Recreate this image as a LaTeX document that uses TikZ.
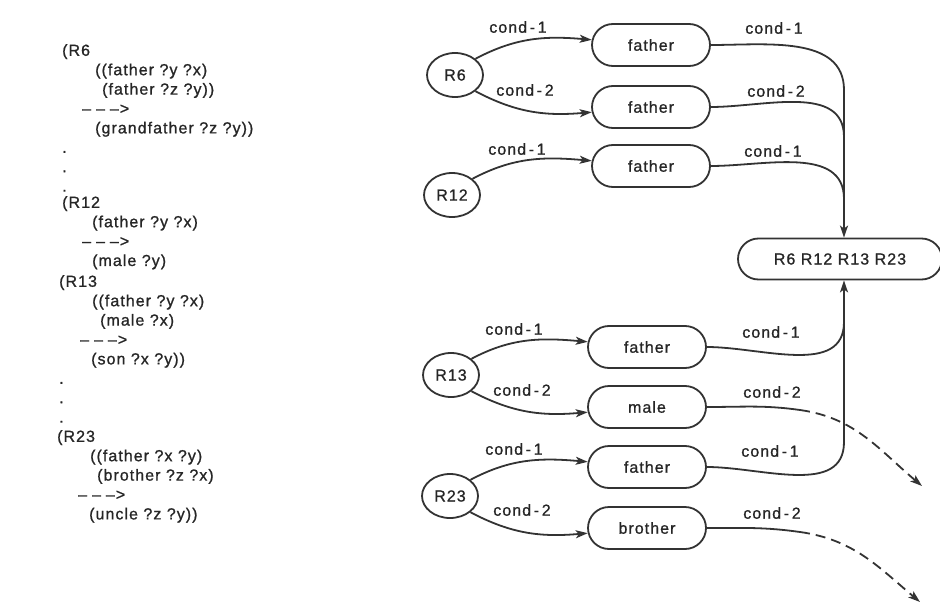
\documentclass[tikz,border=0pt]{standalone}
\usepackage{fontspec}
\setmainfont{Liberation Sans}[LetterSpace=6.5, FakeBold=1]
\usetikzlibrary{arrows.meta, positioning, shapes.geometric, shapes.misc}

\begin{document}
\begin{tikzpicture}[
        x=1pt, y=-1pt,
        font=\fontsize{16}{19.4}\selectfont,
        every node/.style={text=black!85},
        rulecirc/.style={draw, ellipse, line width=1.8pt, draw=black!80,
            minimum width=56pt, minimum height=44pt, inner sep=0pt},
        condbox/.style={draw, rounded rectangle, line width=1.8pt, draw=black!80,
            minimum width=122pt, minimum height=42pt, inner sep=2pt},
        setbox/.style={condbox, minimum width=208pt, minimum height=41pt},
        ruletext/.style={anchor=north west, align=left, inner sep=0pt},
        lbl/.style={inner sep=0pt},
        wire/.style={line width=1.8pt, draw=black!80},
        link/.style={wire, -{Stealth[length=12pt, width=8pt, inset=3pt]}},
        cutline/.style={dash pattern=on 10pt off 6pt},
    ]
    \newcommand{\thenarrow}{\textendash\hspace{5pt}\textendash\hspace{5pt}\textendash\hspace{1pt}>}
        \useasboundingbox (0,0) rectangle (940,610);

        % Rules
        \node[ruletext] (rule6) at (62,44)
            {(R6\\ \hspace*{33pt}((father ?y ?x)\\ \hspace*{40pt}(father ?z ?y))\\
             \hspace*{20pt}\thenarrow\\ \hspace*{33pt}(grandfather ?z ?y))\\ .\\ .\\ .};
        \node[ruletext] (rule12) at (62,196)
            {(R12\\ \hspace*{30pt}(father ?y ?x)\\ \hspace*{20pt}\thenarrow\\ \hspace*{30pt}(male ?y)};
        \node[ruletext] (rule13) at (59,275)
            {(R13\\ \hspace*{33pt}((father ?y ?x)\\ \hspace*{41pt}(male ?x)\\
             \hspace*{21pt}\thenarrow\\ \hspace*{32pt}(son ?x ?y))\\ .\\ .\\ .};
        \node[ruletext] (rule23) at (57,430)
            {(R23\\ \hspace*{33pt}((father ?x ?y)\\ \hspace*{40pt}(brother ?z ?x)\\
             \hspace*{21pt}\thenarrow\\ \hspace*{32pt}(uncle ?z ?y))};

        % Rule nodes and condition nodes
        \node[rulecirc] (r6) at (455,75) {R6};
        \node[condbox] (f61) at (651,45) {father};
        \node[condbox] (f62) at (651,107) {father};
        \node[rulecirc] (r12) at (452,195) {R12};
        \node[condbox] (f121) at (651,166) {father};
        \node[setbox] (cset) at (840,259) {R6 R12 R13 R23};
        \node[rulecirc] (r13) at (451,375) {R13};
        \node[condbox] (f131) at (647,347) {father};
        \node[condbox] (m132) at (647,407) {male};
        \node[rulecirc] (r23) at (450,496) {R23};
        \node[condbox] (f231) at (647,467) {father};
        \node[condbox] (b232) at (647,528) {brother};

        % Labels
        \node[lbl] (l61) at (518,27) {cond\,-\,1};
        \node[lbl] (l62) at (525,90) {cond\,-\,2};
        \node[lbl] (o61) at (774,28) {cond\,-\,1};
        \node[lbl] (o62) at (776,91) {cond\,-\,2};
        \node[lbl] (l121) at (517,149) {cond\,-\,1};
        \node[lbl] (o121) at (773,151) {cond\,-\,1};
        \node[lbl] (l131) at (514,329) {cond\,-\,1};
        \node[lbl] (l132) at (522,390) {cond\,-\,2};
        \node[lbl] (o131) at (771,332) {cond\,-\,1};
        \node[lbl] (o132) at (772,392) {cond\,-\,2};
        \node[lbl] (l231) at (514,449) {cond\,-\,1};
        \node[lbl] (l232) at (522,510) {cond\,-\,2};
        \node[lbl] (o231) at (770,451) {cond\,-\,1};
        \node[lbl] (o232) at (772,513) {cond\,-\,2};

        % Join points
        \coordinate (j61) at (844,90);
        \coordinate (j62) at (844,137);
        \coordinate (j121) at (844,199);
        \coordinate (j131) at (844,322);
        \coordinate (j231) at (844,442);
        \coordinate (cut132) at (800,410);
        \coordinate (end132) at (922,486);
        \coordinate (cut232) at (800,532);
        \coordinate (end232) at (920,602);

        % Arrows
        \draw[link] (r6.north east) to[out=28,in=175] (f61);
        \draw[link] (r6.south east) to[out=-28,in=185] (f62);
        \draw[link] (r12.north east) to[out=28,in=175] (f121);
        \draw[link] (r13.north east) to[out=28,in=175] (f131);
        \draw[link] (r13.south east) to[out=-28,in=185] (m132);
        \draw[link] (r23.north east) to[out=28,in=175] (f231);
        \draw[link] (r23.south east) to[out=-28,in=185] (b232);

        \draw[link] (f61.east) to[out=0,in=90] (j61) -- (cset.north -| j61);
        \draw[wire] (f62.east) to[out=0,in=90] (j62);
        \draw[wire] (f121.east) to[out=0,in=90] (j121);
        \draw[link] (f231.east) to[out=0,in=-90] (j231) -- (cset.south -| j231);
        \draw[wire] (f131.east) to[out=0,in=-90] (j131);
        \draw[wire] (m132.east) to[out=0,in=172] (cut132);
        \draw[link, cutline] (cut132) to[out=-8,in=140] (end132);
        \draw[wire] (b232.east) to[out=0,in=172] (cut232);
        \draw[link, cutline] (cut232) to[out=-8,in=140] (end232);

    \end{tikzpicture}
\end{document}
